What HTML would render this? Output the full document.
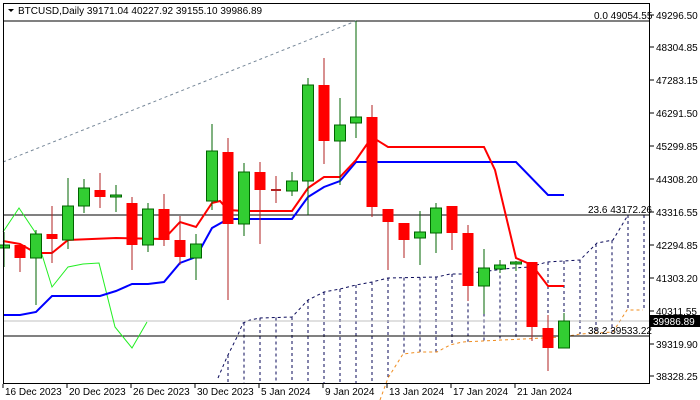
<!DOCTYPE html>
<html><head><meta charset="utf-8"><style>
body{margin:0;background:#fff;width:700px;height:400px;overflow:hidden}
svg{display:block;font-family:"Liberation Sans",sans-serif;font-size:10px}
</style></head><body>
<svg id="c" width="700" height="400" viewBox="0 0 700 400" xmlns="http://www.w3.org/2000/svg">
<rect x="0" y="0" width="700" height="400" fill="#fff"/>
<g id="g"></g>
<rect x="3.5" y="3.5" width="646" height="380" fill="none" stroke="#000"/>
<path d="M8 9 L14 9 L11 12 Z" fill="#000"/>
<text x="18" y="14" fill="#000">BTCUSD,Daily  39171.04 40227.92 39155.10 39986.89</text>
<text x="594" y="19" fill="#000">0.0 49054.55</text>
<text x="588" y="213" fill="#000">23.6 43172.26</text>
<text x="588" y="334" fill="#000">38.2 39533.22</text>
<rect x="650" y="315" width="50" height="12" fill="#000"/>
<text x="653" y="325" fill="#fff">39986.89</text>
</svg>
<script>
var g=document.getElementById('g'),s='';
function L(p,st,w,d){s+='<polyline fill="none" stroke="'+st+'" stroke-width="'+(w||1)+'" '+(d?'stroke-dasharray="'+d+'"':'')+' points="'+p+'"/>';}
// cloud
var A=[[218,378],[227,357],[237,337],[243,323],[250,320],[260,318],[292,317],[308,300],[324,292],[340,289],[356,285],[372,282],[388,278],[437,277],[450,274],[463,274],[513,268],[530,267],[547,262],[580,260],[597,243],[613,240],[628,215],[643,215]];
var B=[[380,400],[388,378],[403,354],[420,352],[437,352],[450,345],[462,342],[523,339],[563,337],[580,334],[613,332],[627,310],[643,310]];
function interp(P,x){if(x<=P[0][0])return P[0][1];for(var i=1;i<P.length;i++){if(x<=P[i][0]){var a=P[i-1],b=P[i];return a[1]+(b[1]-a[1])*(x-a[0])/(b[0]-a[0]);}}return P[P.length-1][1];}
for(var x=228;x<=644;x+=16){var ya=interp(A,x),yb=Math.min(interp(B,x),384);if(x<388)yb=384;s+='<line x1="'+x+'" y1="'+ya+'" x2="'+x+'" y2="'+yb+'" stroke="#0a0a5a" stroke-dasharray="3,3"/>';}
L(A.map(function(p){return p.join(',')}).join(' '),'#0a0a5a',1,'3,3');
L(B.map(function(p){return p.join(',')}).join(' '),'#f08c1e',1,'3,3');
// levels
s+='<line x1="3" y1="21" x2="650" y2="21" stroke="#000"/>';
s+='<line x1="3" y1="215" x2="650" y2="215" stroke="#000"/>';
s+='<line x1="3" y1="336" x2="650" y2="336" stroke="#000"/>';
s+='<line x1="3" y1="321" x2="650" y2="321" stroke="#c0c0c0"/>';
L('3,162 356,21','#778899',1,'3,3');
// chikou
L('3,232 19,208 35,232 52,287 68,267 83,264 99,263 115,327 132,348 147,322','#22ee22',1);
// kijun
L('3,315 20,315 36,312 52,296 100,296 116,291 132,284 148,284 164,282 180,263 196,257 212,228 228,219 292,219 308,197 324,187 340,181 356,162 516,162 548,195 564,195','#0000ff',2);
// tenkan
L('3,241 20,244 36,253 52,253 68,240 116,238 164,239 180,222 196,227 212,203 220,201 228,210 244,211 292,211 308,188 324,177 340,177 356,160 372,137 388,147 484,147 495,170 516,258 532,265 548,286 564,286','#ff0000',2);
// candles x,open,close,high,low
var C=[[4,248,245,232,267],[20,245,258,245,272],[36,258,234,230,305],[52,234,239,206,263],[68,240,206,178,249],[84,206,188,179,213],[100,190,197,173,208],[116,197,195,185,212],[132,203,245,197,270],[148,245,209,203,252],[164,209,240,194,246],[180,240,257,216,265],[196,258,244,234,280],[212,201,151,124,210],[228,152,224,138,300],[244,224,172,163,236],[260,172,190,162,244],[276,190,190,176,203],[292,191,181,172,196],[308,181,85,78,215],[324,85,141,58,164],[340,141,125,98,185],[356,123,117,21,138],[372,117,207,105,217],[388,209,222,209,270],[404,223,240,223,258],[420,238,232,211,265],[436,233,208,203,253],[452,206,233,206,250],[468,233,286,225,301],[484,286,268,249,314],[500,269,265,260,273],[516,264,262,261,271],[532,262,327,262,341],[548,328,348,315,371],[564,348,321,313,348]];
C.forEach(function(c){var up=c[2]<c[1],col=up?'#32cd32':'#ff0000',st=up?'#006400':'#b22222';
var t=Math.min(c[1],c[2]),b=Math.max(c[1],c[2]);
s+='<line x1="'+c[0]+'" y1="'+c[3]+'" x2="'+c[0]+'" y2="'+c[4]+'" stroke="'+st+'"/>';
if(b-t<2)s+='<line x1="'+(c[0]-5)+'" y1="'+t+'" x2="'+(c[0]+5)+'" y2="'+t+'" stroke="'+st+'" stroke-width="2"/>';
else s+='<rect x="'+(c[0]-5.5)+'" y="'+t+'" width="11" height="'+(b-t)+'" fill="'+col+'" stroke="'+(up?'#006400':'none')+'"/>';});
// axis labels
var P=[[15,'49296.50'],[47,'48304.85'],[80,'47283.15'],[113,'46291.50'],[146,'45299.85'],[179,'44308.20'],[212,'43316.55'],[245,'42294.85'],[278,'41303.20'],[311,'40311.55'],[344,'39319.90'],[376,'38328.25']];
P.forEach(function(p){s+='<line x1="650" y1="'+p[0]+'" x2="654" y2="'+p[0]+'" stroke="#000"/><text x="656" y="'+(p[0]+4)+'" fill="#000">'+p[1]+'</text>';});
var D=[[3,'16 Dec 2023'],[67,'20 Dec 2023'],[131,'26 Dec 2023'],[195,'30 Dec 2023'],[259,'5 Jan 2024'],[323,'9 Jan 2024'],[387,'13 Jan 2024'],[451,'17 Jan 2024'],[515,'21 Jan 2024']];
D.forEach(function(d){s+='<line x1="'+d[0]+'" y1="384" x2="'+d[0]+'" y2="388" stroke="#000"/><text x="'+(d[0]+2)+'" y="395" fill="#000">'+d[1]+'</text>';});
g.innerHTML=s;
</script>
</body></html>
